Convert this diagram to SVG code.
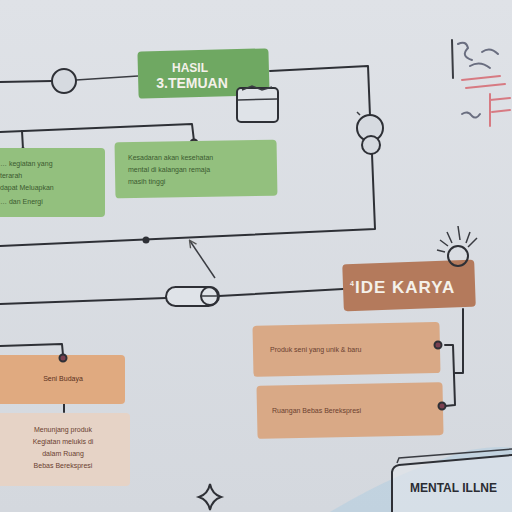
<svg xmlns="http://www.w3.org/2000/svg" width="512" height="512" viewBox="0 0 512 512">
<defs>
<style>
.ln{fill:none;stroke:#2e3036;stroke-width:2;stroke-linecap:round;stroke-linejoin:round}
.ln2{fill:none;stroke:#3a3c42;stroke-width:1.5}
.dot{fill:#d6dae0;stroke:#2e3036;stroke-width:2}
.g{fill:#93c07e}
.gt{font-family:"Liberation Sans",Arial,sans-serif;font-size:7px;fill:#3b5a30}
.p{fill:#d9a986}
.pt{font-family:"Liberation Sans",Arial,sans-serif;font-size:7px;fill:#6a4030}
.hd{font-family:"Liberation Sans",Arial,sans-serif;font-weight:bold;fill:#f4f1ea}
</style>
<linearGradient id="bg" x1="0" y1="0" x2="0" y2="1"><stop offset="0" stop-color="#dfe2e7"/><stop offset="1" stop-color="#d4d8de"/></linearGradient>
<marker id="ah" viewBox="0 0 10 10" refX="8" refY="5" markerWidth="6" markerHeight="6" orient="auto"><path d="M1,1 L9,5 L1,9" fill="none" stroke="#555" stroke-width="1.5"/></marker>
</defs>
<rect width="512" height="512" fill="url(#bg)"/>
<path d="M330,512 Q400,470 470,450 Q500,445 512,448 L512,512 Z" fill="#b9d0e0" opacity="0.7"/>

<g id="connectors">
<path class="ln" d="M0,82 L52,81"/>
<path class="ln2" d="M76,80 L138,76"/>
<path class="ln" d="M270,71 L368,66 L370,116"/>
<path class="ln" d="M372,154 L375,229 L0,246"/>
<circle cx="146" cy="240" r="3.5" fill="#2e3036"/>
<path class="ln2" d="M215,278 L190,241" marker-end="url(#ah)"/>
<path class="ln" d="M0,132 L192,124 L194,141"/>
<path class="ln" d="M22,131 L23,149"/>
<path class="ln" d="M0,304 L166,298"/>
<path class="ln" d="M219,296 L343,289"/>
<path class="ln" d="M463,309 L463,373 L455,373"/>
<path class="ln" d="M445,345 L453,345 L455,405 L445,406"/>
<path class="ln" d="M0,346 L62,344 L63,355"/>
<path class="ln" d="M64,404 L64,412"/>
</g>

<g id="n-hasil-temuan">
<rect x="138" y="50" width="131" height="47" rx="4" style="fill:#6fa862" transform="rotate(-1.5 203 73)"/>
<text class="hd" x="190" y="72" font-size="12" text-anchor="middle">HASIL</text>
<text class="hd" x="192" y="88" font-size="14" text-anchor="middle">3.TEMUAN</text>
<rect x="237" y="88" width="41" height="34" rx="4" fill="#dfe3e8" stroke="#2e3036" stroke-width="2"/>
<path class="ln2" d="M238,100 L277,99"/>
<path class="ln2" d="M242,90 L252,86 L262,90 L272,87"/>
</g>

<g id="n-circle-left"><circle cx="64" cy="81" r="12" class="dot"/></g>

<g id="n-bulb">
<circle cx="370" cy="128" r="13" class="dot"/>
<circle cx="371" cy="145" r="9" class="dot"/>
<path class="ln2" d="M357,112 L360,115"/>
</g>

<g id="n-green-left">
<circle cx="23" cy="152" r="3.5" class="dot"/>
<rect x="-5" y="148" width="110" height="69" rx="4" class="g"/>
<text class="gt" x="0" y="166">… kegiatan yang</text>
<text class="gt" x="0" y="178">terarah</text>
<text class="gt" x="0" y="190">dapat Meluapkan</text>
<text class="gt" x="0" y="204">… dan Energi</text>
</g>

<g id="n-green-right">
<circle cx="194" cy="143" r="3.5" class="dot" style="fill:#5a4a40"/>
<rect x="115" y="141" width="162" height="56" rx="4" class="g" transform="rotate(-1 196 169)"/>
<text class="gt" x="128" y="160">Kesadaran akan kesehatan</text>
<text class="gt" x="128" y="172">mental di kalangan remaja</text>
<text class="gt" x="128" y="184">masih tinggi</text>
</g>

<g id="n-capsule">
<rect x="166" y="287" width="52" height="19" rx="9.5" fill="#dfe3e8" stroke="#2e3036" stroke-width="2"/>
<circle cx="210" cy="296" r="9" fill="none" stroke="#2e3036" stroke-width="2"/>
<path class="ln2" d="M200,296 L219,296"/>
</g>

<g id="n-ide-karya">
<rect x="343" y="262" width="132" height="47" rx="4" fill="#b47a5c" transform="rotate(-2 409 285)"/>
<text class="hd" x="350" y="293" font-size="17" letter-spacing="1"><tspan font-size="7" dy="-7">4</tspan><tspan dy="7">IDE KARYA</tspan></text>
<circle cx="458" cy="256" r="10" fill="none" stroke="#2e3036" stroke-width="2"/>
<path class="ln2" d="M440,240 L448,246 M447,232 L452,243 M458,226 L460,240 M470,232 L466,243 M477,238 L468,247 M437,250 L445,252"/>
</g>

<g id="n-produk">
<rect x="253" y="324" width="187" height="51" rx="4" class="p" transform="rotate(-1.2 346 350)"/>
<text class="pt" x="270" y="352">Produk seni yang unik &amp; baru</text>
<circle cx="438" cy="345" r="3.5" class="dot" style="fill:#7a4050"/>
</g>

<g id="n-ruangan">
<rect x="257" y="384" width="186" height="53" rx="4" class="p" transform="rotate(-1.2 350 410)"/>
<text class="pt" x="272" y="413">Ruangan Bebas Berekspresi</text>
<circle cx="442" cy="406" r="3.5" class="dot" style="fill:#7a4050"/>
</g>

<g id="n-seni-budaya">
<rect x="-5" y="355" width="130" height="49" rx="4" fill="#e0aa80"/>
<text class="pt" x="63" y="381" text-anchor="middle" style="fill:#5a3020">Seni Budaya</text>
<circle cx="63" cy="358" r="3.5" class="dot" style="fill:#7a4050"/>
</g>

<g id="n-menunjang">
<rect x="-5" y="413" width="135" height="73" rx="4" fill="#e6d3c6"/>
<text class="pt" x="63" y="432" text-anchor="middle">Menunjang produk</text>
<text class="pt" x="63" y="444" text-anchor="middle">Kegiatan melukis di</text>
<text class="pt" x="63" y="456" text-anchor="middle">dalam Ruang</text>
<text class="pt" x="63" y="468" text-anchor="middle">Bebas Berekspresi</text>
</g>

<g id="n-star">
<path d="M210,484 Q212,494 221,497 Q212,500 210,510 Q208,500 199,497 Q208,494 210,484 Z" fill="none" stroke="#2e3036" stroke-width="2"/>
</g>

<g id="n-mental">
<path d="M392,512 L392,472 Q393,466 399,465 L512,455 L512,512 Z" fill="#e4e8ec" opacity="0.6"/>
<path class="ln" d="M392,512 L392,472 Q393,466 399,465 L512,455"/>
<path class="ln2" d="M397,463 L399,458 L512,449"/>
<text x="410" y="492" font-family="Liberation Sans,Arial,sans-serif" font-weight="bold" font-size="12" fill="#2a2c33">MENTAL ILLNE</text>
</g>

<g id="scribble" fill="none" stroke-width="2" stroke-linecap="round">
<path d="M452,40 L453,78" stroke="#3a3c42"/>
<path d="M458,44 Q466,40 468,48 Q460,56 472,60 M470,66 Q480,60 490,68 M482,52 Q490,46 498,54" stroke="#6a6e80"/>
<path d="M462,80 L500,76 M466,88 L505,84 M490,94 L490,126 M490,100 L510,98 M492,112 L510,110" stroke="#d77a82"/>
<path d="M462,114 Q468,110 472,116 Q476,120 480,114" stroke="#6a6e80"/>
</g>
</svg>
